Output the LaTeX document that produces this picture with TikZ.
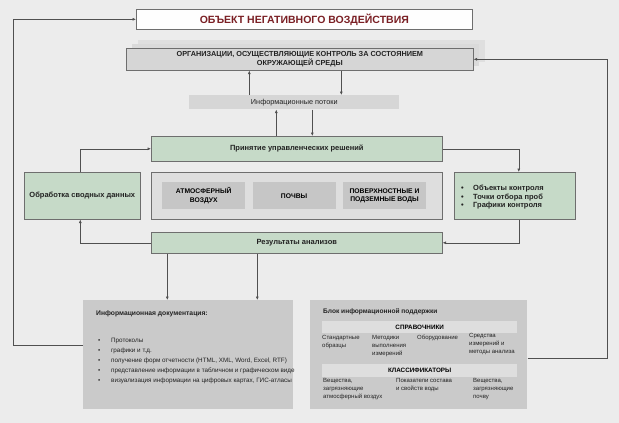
\documentclass[tikz,border=0pt]{standalone}
\usepackage{fontspec}
\setmainfont{Liberation Sans}
\usetikzlibrary{arrows.meta, positioning}
\definecolor{SchemeBg}{HTML}{ECECEC}
\definecolor{SchemeEdge}{HTML}{6E6E6E}
\definecolor{SchemeLine}{HTML}{505050}
\definecolor{SchemeGreen}{HTML}{C6DAC8}
\definecolor{SchemeGray}{HTML}{D6D6D6}
\definecolor{SchemeInner}{HTML}{C6C6C6}
\definecolor{SchemeBlock}{HTML}{CACACA}
\definecolor{SchemeBar}{HTML}{DEDEDE}
\definecolor{SchemeShadow}{HTML}{DADADA}
\definecolor{SchemeRed}{HTML}{7A1F24}
\definecolor{SchemeText}{HTML}{222222}

\begin{document}
\begin{tikzpicture}[x=1pt, y=-1pt,
    blk/.style={
      rectangle, draw=SchemeEdge, line width=0.6pt, inner sep=1pt,
      anchor=north west, align=center, text=SchemeText
    },
    grn/.style={blk, fill=SchemeGreen, font=\fontsize{7.5}{9}\selectfont\bfseries},
    cell/.style={
      rectangle, fill=SchemeInner, inner sep=1pt, anchor=north west, align=center,
      minimum width=83pt, minimum height=27pt, font=\fontsize{6.75}{8.5}\selectfont\bfseries
    },
    bar/.style={
      rectangle, fill=SchemeBar, inner sep=1pt, anchor=north west,
      minimum width=195pt, font=\fontsize{6.3}{7}\selectfont\bfseries
    },
    txt/.style={anchor=north west, align=left, inner sep=0pt, text=SchemeText,
      font=\fontsize{6}{8.3}\selectfont},
    item/.style={anchor=west, inner sep=0pt, text=SchemeText,
      font=\fontsize{6.3}{7}\selectfont},
    arr/.style={-{Latex[length=3.5pt, width=3pt]}, line width=0.6pt, color=SchemeLine}
  ]
    \useasboundingbox[fill=SchemeBg] (0,0) rectangle (619,423);

    % top of the scheme
    \node[blk, fill=white!97!SchemeBg, minimum width=336pt, minimum height=20pt,
      font=\fontsize{10.5}{12}\selectfont\bfseries, text=SchemeRed] (obj) at (136,9)
      {ОБЪЕКТ НЕГАТИВНОГО ВОЗДЕЙСТВИЯ};
    \fill[SchemeShadow!70!SchemeBg] (138,40) rectangle (485,62);
    \fill[SchemeShadow] (132,44) rectangle (479,66);
    \node[blk, fill=SchemeGray, minimum width=347pt, minimum height=22pt,
      font=\fontsize{7.3}{9}\selectfont\bfseries] (org) at (126,48)
      {ОРГАНИЗАЦИИ, ОСУЩЕСТВЛЯЮЩИЕ КОНТРОЛЬ ЗА СОСТОЯНИЕМ\\ОКРУЖАЮЩЕЙ СРЕДЫ};
    \node[blk, draw=none, fill=SchemeGray, minimum width=210pt, minimum height=14pt,
      font=\fontsize{7.3}{8}\selectfont] (flow) at (189,95) {Информационные потоки};

    % middle row
    \node[grn, minimum width=291pt, minimum height=25pt] (dec) at (151,136)
      {Принятие управленческих решений};
    \node[blk, fill=SchemeBar, minimum width=291pt, minimum height=47pt] (env) at (151,172) {};
    \node[cell] (air) at (162,182) {АТМОСФЕРНЫЙ\\ВОЗДУХ};
    \node[cell, right=7pt of air] (soil) {ПОЧВЫ};
    \node[cell, right=7pt of soil] (water) {ПОВЕРХНОСТНЫЕ И\\ПОДЗЕМНЫЕ ВОДЫ};
    \node[grn, minimum width=116pt, minimum height=47pt] (proc) at (24,172)
      {Обработка сводных данных};
    \node[grn, minimum width=121pt, minimum height=47pt] (ctrl) at (454,172) {};
    \node[txt, font=\fontsize{7.5}{8.6}\selectfont\bfseries] (ctrltext) at (461,185)
      {\makebox[12pt][l]{\textbullet}Объекты контроля\\
       \makebox[12pt][l]{\textbullet}Точки отбора проб\\
       \makebox[12pt][l]{\textbullet}Графики контроля};
    \node[grn, minimum width=291pt, minimum height=21pt] (res) at (151,232)
      {Результаты анализов};

    % bottom blocks
    \node[blk, draw=none, fill=SchemeBlock, minimum width=210pt, minimum height=109pt] (doc) at (83,300) {};
    \node[txt, font=\fontsize{6.75}{8}\selectfont\bfseries] (doctitle) at (96,310)
      {Информационная документация:};
    \node[item] (it1) at (98,341) {\makebox[13pt][l]{\textbullet}Протоколы};
    \node[item] (it2) at (98,351) {\makebox[13pt][l]{\textbullet}графики и т.д.};
    \node[item] (it3) at (98,361) {\makebox[13pt][l]{\textbullet}получение форм отчетности (HTML, XML, Word, Excel, RTF)};
    \node[item] (it4) at (98,371) {\makebox[13pt][l]{\textbullet}представление информации в табличном и графическом виде};
    \node[item] (it5) at (98,381) {\makebox[13pt][l]{\textbullet}визуализация информации на цифровых картах, ГИС-атласы};

    \node[blk, draw=none, fill=SchemeBlock, minimum width=217pt, minimum height=109pt] (sup) at (310,300) {};
    \node[txt, font=\fontsize{6.6}{8}\selectfont\bfseries] (suptitle) at (323,308)
      {Блок информационной поддержки};
    \node[bar, minimum height=12pt] (refs) at (322,321) {СПРАВОЧНИКИ};
    \node[txt] (std) at (322,335) {Стандартные\\образцы};
    \node[txt] (meth) at (372,335) {Методики\\выполнения\\измерений};
    \node[txt] (equip) at (417,335) {Оборудование};
    \node[txt] (tools) at (469,333) {Средства\\измерений и\\методы анализа};
    \node[bar, minimum height=13pt] (cls) at (322,364) {КЛАССИФИКАТОРЫ};
    \node[txt] (airsub) at (323,378) {Вещества,\\загрязняющие\\атмосферный воздух};
    \node[txt] (watind) at (396,378) {Показатели состава\\и свойств воды};
    \node[txt] (soilsub) at (473,378) {Вещества,\\загрязняющие\\почву};

    % connectors
    \draw[arr] ([xshift=-45pt]flow.north) -- ([xshift=-45pt]flow.north |- org.south);
    \draw[arr] ([xshift=41.5pt]org.south) -- ([xshift=41.5pt]org.south |- flow.north);
    \draw[arr] ([xshift=-20.5pt]dec.north) -- ([xshift=-20.5pt]dec.north |- flow.south);
    \draw[arr] ([xshift=18pt]flow.south) -- ([xshift=18pt]flow.south |- dec.north);
    \draw[arr] ([xshift=-2pt]proc.north) |- (dec.west);
    \draw[arr] (dec.east) -| ([xshift=4pt]ctrl.north);
    \draw[arr] ([xshift=4pt]ctrl.south) |- (res.east);
    \draw[arr] (res.west) -| ([xshift=-2pt]proc.south);
    \draw[arr] ([xshift=-21pt]doc.north |- res.south) -- ([xshift=-21pt]doc.north);
    \draw[arr] ([xshift=69pt]doc.north |- res.south) -- ([xshift=69pt]doc.north);
    \draw[arr] ([yshift=9.5pt]doc.west) -- ++(-70,0) |- (obj.west);
    \draw[arr] ([yshift=-3.5pt]sup.east) -- ++(80,0) |- (org.east);
  \end{tikzpicture}
\end{document}
